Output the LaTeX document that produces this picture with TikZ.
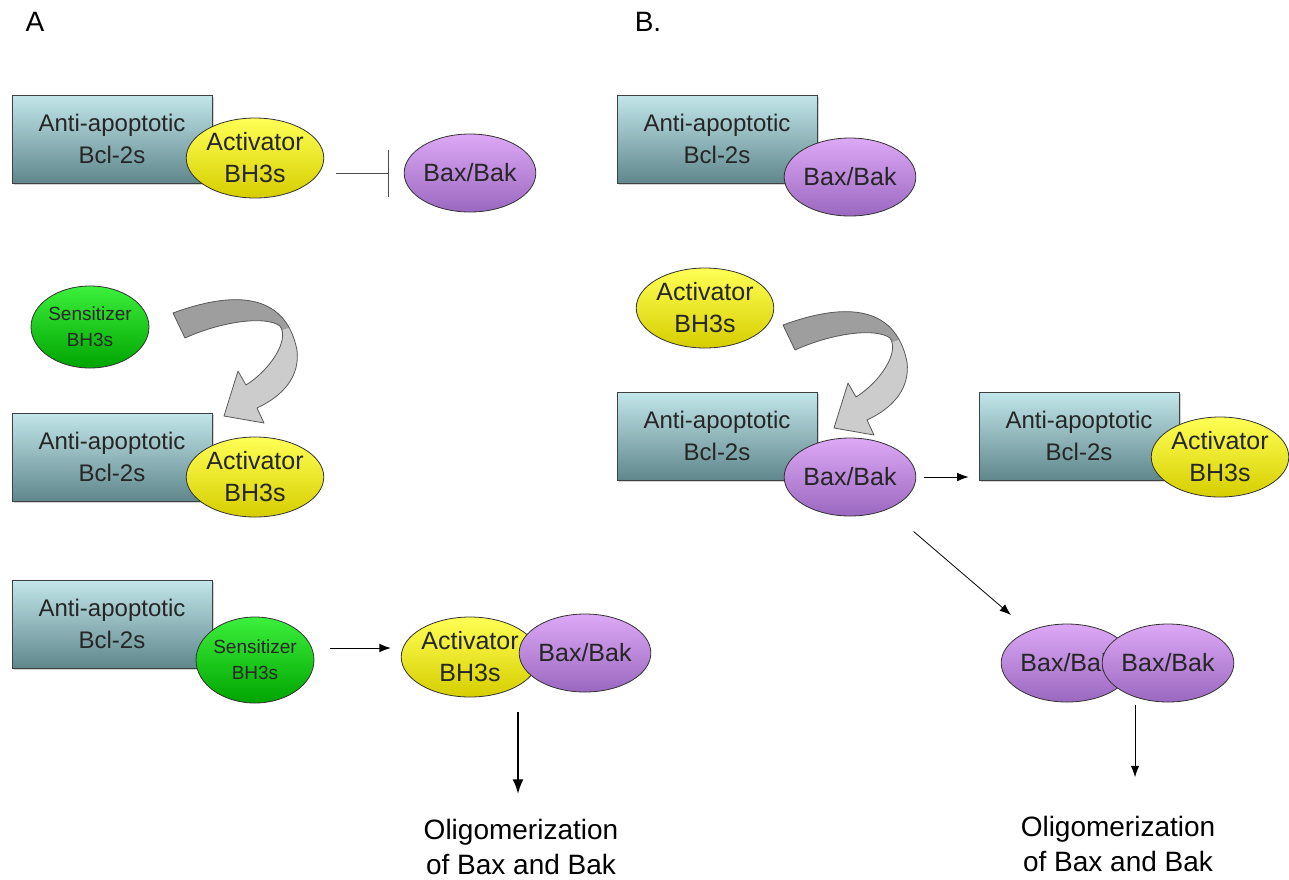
\documentclass[tikz,border=0pt]{standalone}
\usepackage{fontspec}
\setmainfont{Liberation Sans}
\usetikzlibrary{arrows.meta,shapes.geometric,shadows}

\definecolor{boxtop}{HTML}{C2E6EA}
\definecolor{boxbot}{HTML}{5F878C}
\definecolor{acttop}{HTML}{FFFF55}
\definecolor{actbot}{HTML}{D6CE00}
\definecolor{baxtop}{HTML}{DDA8F5}
\definecolor{baxbot}{HTML}{9A68C0}
\definecolor{senstop}{HTML}{3CF03C}
\definecolor{sensbot}{HTML}{00A400}

\begin{document}
\begin{tikzpicture}[x=0.5pt, y=-0.5pt, >={Latex[length=2mm]},
  bcl/.style={rectangle, draw=black!75, minimum width=100pt, minimum height=44pt,
    top color=boxtop, bottom color=boxbot, align=center, text=black!85,
    font=\fontsize{12}{16}\selectfont,
    drop shadow={shadow xshift=1.2pt, shadow yshift=-1.2pt, opacity=0.35}},
  blob/.style={ellipse, draw=black!80, inner sep=0pt, align=center, text=black!85,
    font=\fontsize{12.5}{16}\selectfont},
  act/.style={blob, minimum width=65pt, minimum height=40pt, top color=acttop, bottom color=actbot},
  bax/.style={blob, minimum width=57pt, minimum height=39pt, top color=baxtop, bottom color=baxbot},
  sens/.style={blob, minimum width=55pt, minimum height=41pt, top color=senstop, bottom color=sensbot,
    font=\fontsize{9.5}{13}\selectfont},
  outcome/.style={align=center, font=\fontsize{14}{17.5}\selectfont},
  panel/.style={font=\fontsize{14}{16}\selectfont},
  bentarrow/.pic={
    % light body
    \fill[black!20]
      (173,313) .. controls (230,292) and (285,290) .. (297,350)
      .. controls (300,375) and (285,395) .. (257,408) -- (264,423) -- (224,416) -- (238,371)
      -- (246,385) .. controls (270,370) and (290,340) .. (280,326)
      .. controls (265,315) and (220,322) .. (185,338) -- cycle;
    % darker tail face
    \begin{scope}
      \clip
        (173,313) .. controls (230,292) and (285,290) .. (297,350)
        .. controls (300,375) and (285,395) .. (257,408) -- (264,423) -- (224,416) -- (238,371)
        -- (246,385) .. controls (270,370) and (290,340) .. (280,326)
        .. controls (265,315) and (220,322) .. (185,338) -- cycle;
      \fill[black!38] (150,270) -- (320,270) -- (320,318) -- (282,330) -- (150,360) -- cycle;
    \end{scope}
    \draw[black!65, line join=round]
      (173,313) .. controls (230,292) and (285,290) .. (297,350)
      .. controls (300,375) and (285,395) .. (257,408) -- (264,423) -- (224,416) -- (238,371)
      -- (246,385) .. controls (270,370) and (290,340) .. (280,326)
      .. controls (265,315) and (220,322) .. (185,338) -- cycle;
  }]
\useasboundingbox (0,0) rectangle (1289,879);

% panel A
\node[panel] (labA) at (35,22) {A};
\node[bcl] (bclA1) at (112,139) {Anti-apoptotic\\Bcl-2s};
\node[act] (actA1) at (255,158) {Activator\\BH3s};
\node[bax] (baxA1) at (470,173) {Bax/Bak};
\draw[black!70, -{Bar[width=23.5pt]}, shorten <=6pt, shorten >=7.5pt] (actA1.east |- baxA1) -- (baxA1.west);

\node[sens] (sens2) at (90,327) {Sensitizer\\BH3s};
\pic at (0,0) {bentarrow};
\node[bcl] (bclA2) at (112,457) {Anti-apoptotic\\Bcl-2s};
\node[act] (actA2) at (255,477) {Activator\\BH3s};

\node[bcl] (bclA3) at (112,624) {Anti-apoptotic\\Bcl-2s};
\node[sens, minimum height=43pt] (sens3) at (255,660) {Sensitizer\\BH3s};
\node[act] (actA3) at (470,657) {Activator\\BH3s};
\node[bax] (baxA3) at (585,653) {Bax/Bak};
\draw[->, shorten <=8pt, shorten >=5pt] ([yshift=6pt]sens3.east) -- ([yshift=6pt]sens3.east -| actA3.west);
\coordinate (jA) at (518,712);
\node[outcome] (oligoA) at (521,847) {Oligomerization\\of Bax and Bak};
\draw[->, line width=1.2pt, >={Latex[length=2.6mm]}, shorten >=9pt] (jA) -- (jA |- oligoA.north);

% panel B
\node[panel] (labB) at (648,22) {B.};
\node[bcl] (bclB1) at (717,139) {Anti-apoptotic\\Bcl-2s};
\node[bax] (baxB1) at (850,177) {Bax/Bak};

\node[act] (actB2) at (705,308) {Activator\\BH3s};
\pic at (610,12) {bentarrow};
\node[bcl] (bclB2) at (717,436) {Anti-apoptotic\\Bcl-2s};
\node[bax] (baxB2) at (850,477) {Bax/Bak};
\node[bcl] (bclB3) at (1079,436) {Anti-apoptotic\\Bcl-2s};
\node[act] (actB3) at (1220,457) {Activator\\BH3s};
\draw[->, shorten <=4pt, shorten >=5pt] (baxB2.east) -- (baxB2.east -| bclB3.west);

\node[bax] (dimL) at (1067,663) {Bax/Bak};
\node[bax] (dimR) at (1168,663) {Bax/Bak};
\draw[->, shorten <=17pt, shorten >=12pt] (baxB2) -- (dimL);
\coordinate (jB) at (1135,705);
\node[outcome] (oligoB) at (1118,844) {Oligomerization\\of Bax and Bak};
\draw[->, shorten >=16pt] (jB) -- (jB |- oligoB.north);
\end{tikzpicture}
\end{document}
